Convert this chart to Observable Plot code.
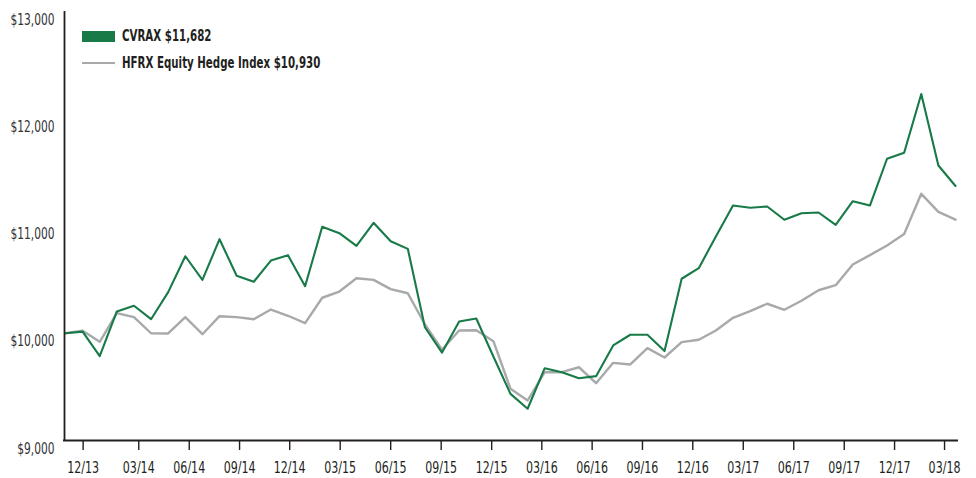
<!DOCTYPE html>
<html>
<head>
<meta charset="utf-8">
<script src="https://cdn.jsdelivr.net/npm/d3@7"></script>
<script src="https://cdn.jsdelivr.net/npm/@observablehq/plot@0.6"></script>
<style>
  html, body { margin: 0; padding: 0; background: #fff; }
  #wrap { position: relative; width: 976px; height: 478px; font-family: "Liberation Sans Narrow", "DejaVu Sans Condensed", "Arial Narrow", sans-serif; color: #231f20; }
  #legend { position: absolute; left: 82px; top: 27px; font-weight: bold; font-size: 15px; }
  .item { display: flex; align-items: center; height: 18px; margin-bottom: 9px; white-space: nowrap; }
  .sw { width: 33px; margin-right: 7px; flex: none; }
  .lt { display: inline-block; transform: scaleX(0.76); transform-origin: left center; }
</style>
</head>
<body>
<div id="wrap"></div>
<script>
// Series names
const seriesNames = ["CVRAX $11,682", "HFRX Equity Hedge Index $10,930"];
const seriesColors = ["#177a47", "#a8a9ab"];

// Monthly values (month index 0 = 11/13 ... 52 = 03/18)
const cvrax = [10000, 10015, 9786, 10203, 10256, 10131, 10383, 10718, 10498, 10877,
  10536, 10480, 10678, 10728, 10439, 10993, 10933, 10815, 11030, 10858,
  10787, 10056, 9820, 10110, 10138, 9783, 9435, 9296, 9674, 9637,
  9581, 9600, 9886, 9986, 9986, 9834, 10508, 10607, 10902, 11191,
  11170, 11182, 11058, 11119, 11126, 11011, 11231, 11191, 11627, 11683,
  12231, 11564, 11373];
const hfrx = [10000, 10023, 9920, 10187, 10150, 10000, 9998, 10150, 9991, 10159,
  10150, 10131, 10221, 10163, 10094, 10331, 10389, 10513, 10498, 10411,
  10373, 10082, 9846, 10026, 10028, 9926, 9482, 9373, 9637, 9637,
  9683, 9534, 9724, 9709, 9861, 9774, 9917, 9939, 10026, 10144,
  10206, 10275, 10219, 10303, 10401, 10448, 10641, 10728, 10818, 10925,
  11300, 11132, 11059];

// Axis ticks
const xTickLabels = ["12/13","03/14","06/14","09/14","12/14","03/15","06/15","09/15","12/15",
  "03/16","06/16","09/16","12/16","03/17","06/17","09/17","12/17","03/18"];
const xTickAt = [1.03, 4.28, 7.23, 10.17, 13.1, 16.05, 19.0, 21.95, 24.9,
  27.83, 30.77, 33.71, 36.65, 39.6, 42.55, 45.5, 48.44, 51.36];
const yTicks = [9000, 10000, 11000, 12000, 13000];

const rows = [];
cvrax.forEach((v, i) => rows.push({i, v, s: seriesNames[0]}));
hfrx.forEach((v, i) => rows.push({i, v, s: seriesNames[1]}));

const n = cvrax.length;
const chart = Plot.plot({
  width: 976,
  height: 478,
  marginLeft: 65,
  marginRight: 21,
  marginTop: 11,
  marginBottom: 38,
  style: { fontFamily: '"Liberation Sans Narrow", "DejaVu Sans Condensed", "Arial Narrow", sans-serif', fontSize: "16px", color: "#231f20", background: "#fff" },
  x: { domain: [0, n - 1] },
  y: { domain: [9000, 13000] },
  color: { domain: seriesNames, range: seriesColors },
  marks: [
    Plot.axisY({ ticks: yTicks, tickSize: 0, tickPadding: 11, dy: 8, fontSize: 16, tickFormat: d => "$" + d3.format(",")(d), label: null, fill: "#333" }),
    Plot.axisX({ ticks: xTickAt, tickSize: 10, tickPadding: 12, fontSize: 15, tickFormat: d => xTickLabels[xTickAt.indexOf(d)], label: null, strokeWidth: 1.4 }),
    Plot.lineY(rows.filter(d => d.s === seriesNames[1]), { x: "i", y: "v", stroke: "s", strokeWidth: 2.4 }),
    Plot.lineY(rows.filter(d => d.s === seriesNames[0]), { x: "i", y: "v", stroke: "s", strokeWidth: 2.1 }),
    Plot.ruleX([0], { y1: 9000, y2: 13000, dx: -1, stroke: "#231f20", strokeWidth: 1.8 }),
    Plot.ruleY([9000], { x1: 0, x2: n - 1, insetLeft: -2, insetRight: -3, stroke: "#231f20", strokeWidth: 2.2 })
  ]
});

const wrap = document.getElementById("wrap");
wrap.appendChild(chart);

// Horizontally condense axis labels around their anchor point (narrow-font look)
const svg = chart.tagName.toLowerCase() === "svg" ? chart : chart.querySelector("svg");
svg.querySelectorAll("text").forEach(t => {
  const r = t.getBoundingClientRect();
  const anchor = getComputedStyle(t).textAnchor;
  const f = anchor === "end" ? 0.74 : 0.82;
  const ax = anchor === "end" ? r.right : anchor === "middle" ? (r.left + r.right) / 2 : r.left;
  const ay = (r.top + r.bottom) / 2;
  const pt = svg.createSVGPoint();
  pt.x = ax; pt.y = ay;
  const p = pt.matrixTransform(t.parentNode.getScreenCTM().inverse());
  const g = document.createElementNS("http://www.w3.org/2000/svg", "g");
  g.setAttribute("transform", `translate(${p.x},${p.y}) scale(${f},1) translate(${-p.x},${-p.y})`);
  t.parentNode.insertBefore(g, t);
  g.appendChild(t);
});

const legend = document.createElement("div");
legend.id = "legend";
seriesNames.forEach((name, k) => {
  const it = document.createElement("div");
  it.className = "item";
  const sw = document.createElement("div");
  sw.className = "sw";
  sw.style.height = k === 0 ? "11px" : "2.5px";
  sw.style.background = seriesColors[k];
  const t = document.createElement("span");
  t.className = "lt";
  t.textContent = name;
  it.appendChild(sw);
  it.appendChild(t);
  legend.appendChild(it);
});
wrap.appendChild(legend);
</script>
</body>
</html>
